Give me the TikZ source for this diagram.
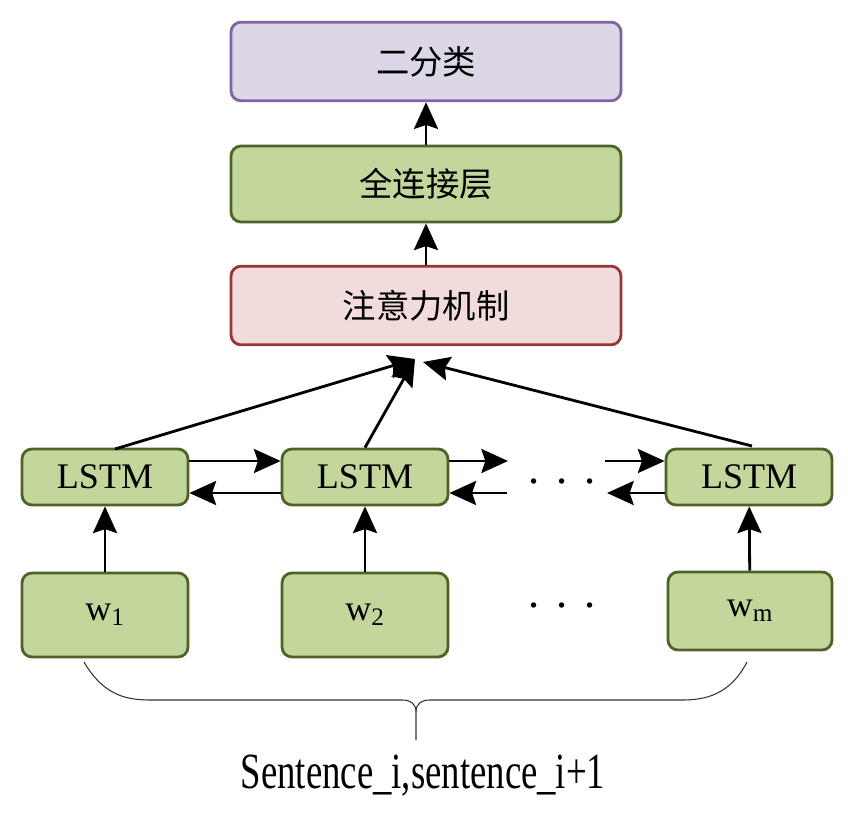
\documentclass[tikz,border=0pt]{standalone}
\usepackage{fontspec}
\setmainfont{Liberation Serif}
\newfontfamily\cjk{Noto Sans CJK SC}
\usetikzlibrary{arrows.meta}
\definecolor{gfill}{HTML}{C3D69B}
\definecolor{gdraw}{HTML}{4F6228}
\definecolor{pfill}{HTML}{F2DCDB}
\definecolor{pdraw}{HTML}{953735}
\definecolor{vfill}{HTML}{DCD6E6}
\definecolor{vdraw}{HTML}{8064A2}
\tikzset{
  box/.style={draw, line width=2.1pt, rounded corners=7.5pt, inner sep=0pt, align=center},
  gbox/.style={box, fill=gfill, draw=gdraw},
  cjklabel/.style={font=\cjk\fontsize{25}{30}\selectfont},
  latlabel/.style={font=\fontsize{27}{32}\selectfont},
  arr/.style={line width=2.1pt, -{Stealth[length=20pt,width=18pt,inset=3pt]}},
  dots/.style={font=\fontsize{34}{34}\selectfont},
}
\newcommand{\mydots}{\textperiodcentered\hspace{10pt}\textperiodcentered\hspace{10pt}\textperiodcentered}
\begin{document}
\begin{tikzpicture}[x=0.75pt,y=-0.75pt]
\useasboundingbox (0,0) rectangle (848,816);
% top boxes
\node[box, fill=vfill, draw=vdraw, minimum width=292.5pt, minimum height=59pt, cjklabel] (cls) at (426,61.5) {二分类};
\node[gbox, minimum width=292.5pt, minimum height=57pt, cjklabel] (fc) at (426,184) {全连接层};
\node[box, fill=pfill, draw=pdraw, minimum width=292.5pt, minimum height=59pt, cjklabel] (att) at (426,305.5) {注意力机制};
\draw[arr] (fc) -- (cls);
\draw[arr] (att) -- (fc);
% LSTM boxes
\node[gbox, minimum width=124.5pt, minimum height=42pt, latlabel] (l1) at (105,477) {LSTM};
\node[gbox, minimum width=124.5pt, minimum height=42pt, latlabel] (l2) at (365,477) {LSTM};
\node[gbox, minimum width=124.5pt, minimum height=42pt, latlabel] (l3) at (749,477) {LSTM};
% word boxes
\node[gbox, minimum width=124.5pt, minimum height=63pt, latlabel] (w1) at (105,615) {w\textsubscript{1}};
\node[gbox, minimum width=124.5pt, minimum height=63pt, latlabel] (w2) at (365,615) {w\textsubscript{2}};
\node[gbox, minimum width=123pt, minimum height=58.5pt, latlabel] (wm) at (750,611) {w\textsubscript{m}};
\draw[arr] (w1) -- (l1);
\draw[arr] (w2) -- (l2);
\draw[arr] (wm) -- (l3);
% attention inputs
\coordinate (tipA) at (415,359);
\coordinate (tipB) at (423,362);
\coordinate (s1) at (115,449);
\coordinate (s3) at (752,446);
\draw[arr] (s1) -- (tipA);
\draw[arr] (l2.north) -- (tipA);
\draw[arr] (s3) -- (tipB);
% recurrent arrows
\draw[arr] ([yshift=12pt]l1.east) -- ([yshift=12pt]l2.west);
\draw[arr] ([yshift=-12pt]l2.west) -- ([yshift=-12pt]l1.east);
\coordinate (r1) at (508,461);
\coordinate (r2) at (507,493);
\coordinate (q1) at (605,461);
\coordinate (q2) at (607,493);
\draw[arr] ([yshift=12pt]l2.east) -- (r1);
\draw[arr] (r2) -- ([yshift=-12pt]l2.east);
\draw[arr] (q1) -- ([yshift=12pt]l3.west);
\draw[arr] ([yshift=-12pt]l3.west) -- (q2);
% dots
\node[dots] (d1) at (562,488) {\mydots};
\node[dots] (d2) at (562,612) {\mydots};
% brace
\coordinate (bl) at (84,662);
\coordinate (br) at (747,662);
\coordinate (bm) at (416,740);
\draw[line width=0.8pt, black!80] (bl) .. controls (105,698) and (130,700) .. (152,700)
  -- (402,700) .. controls (410,700) and (416,703) .. (416,712) -- (bm);
\draw[line width=0.8pt, black!80] (br) .. controls (730,695) and (705,700) .. (682,700)
  -- (430,700) .. controls (422,700) and (416,703) .. (416,712);
\node[font=\fontsize{38}{40}\selectfont] (lab) at (423,776) {\scalebox{0.725}[1]{Sentence\_i,sentence\_i+1}};
\end{tikzpicture}
\end{document}
